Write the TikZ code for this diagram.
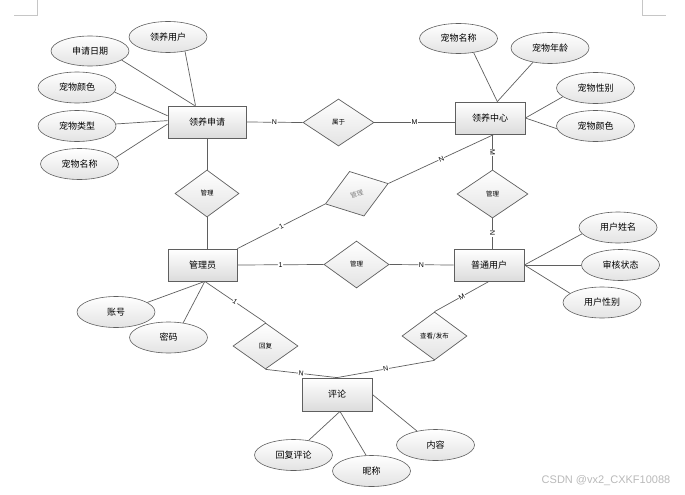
\documentclass[tikz,border=0pt]{standalone}
\usepackage{fontspec}
\setmainfont{Noto Sans CJK SC}
\newfontfamily\latinfont{Liberation Sans}
\usetikzlibrary{shapes.geometric,shadows,calc}
\definecolor{edgec}{HTML}{5F5F5F}
\definecolor{fillbot}{HTML}{DCDCDC}
\begin{document}
\begin{tikzpicture}[x=1pt,y=-1pt,
 ent/.style={rectangle,draw=edgec,line width=0.8pt,top color=white,bottom color=fillbot,minimum width=70pt,minimum height=32pt,inner sep=0pt,font=\fontsize{9}{10}\selectfont,drop shadow={shadow xshift=1.2pt,shadow yshift=-1.2pt,opacity=0.3}},
 attr/.style={ellipse,draw=edgec,line width=0.6pt,top color=white,bottom color=fillbot!80,minimum width=78pt,minimum height=31pt,inner sep=0pt,font=\fontsize{9}{10}\selectfont},
 rel/.style={diamond,draw=edgec,line width=0.7pt,top color=white,bottom color=fillbot!80,inner sep=0pt,font=\fontsize{6.5}{7}\selectfont},
 link/.style={draw=edgec,line width=0.7pt},
 card/.style={font=\latinfont\fontsize{7}{7}\selectfont,fill=white,inner sep=0.6pt,sloped,pos=0.5},
 pagemark/.style={draw=gray!45,line width=0.6pt}
]
\useasboundingbox (0,0) rectangle (685,495);
% page corner marks
\draw[pagemark] (14,15) -- (37,15) -- (37,0);
\draw[pagemark] (642,0) -- (642,15) -- (666,15);

% entities
\node[ent,minimum width=78pt] (req) at (207,122) {领养申请};
\node[ent] (ctr) at (490,118) {领养中心};
\node[ent,minimum width=69pt] (adm) at (202.5,265) {管理员};
\node[ent] (usr) at (489,265) {普通用户};
\node[ent,minimum height=33pt] (cmt) at (337,394.5) {评论};

% relationships
\node[rel,minimum width=71pt,minimum height=47pt] (belong) at (338.5,122.5) {属于};
\node[rel,minimum width=64pt,minimum height=47pt] (mg1) at (207,193.5) {管理};
\node[rel,minimum width=66pt,minimum height=47pt,rotate=18,text=gray] (mg2) at (356.75,193.75) {管理};
\node[rel,minimum width=71pt,minimum height=48pt] (mg3) at (492.5,194) {管理};
\node[rel,minimum width=65pt,minimum height=47pt] (mg4) at (356.5,264.5) {管理};
\node[rel,minimum width=65pt,minimum height=46pt] (reply) at (265.5,346) {回复};
\node[rel,minimum width=65pt,minimum height=48pt] (post) at (434.5,336) {查看/发布};

% attributes
\node[attr] (a1) at (168,37) {领养用户};
\node[attr,minimum height=30pt] (a2) at (90,51) {申请日期};
\node[attr] (a3) at (77,87.5) {宠物颜色};
\node[attr] (a4) at (77,126) {宠物类型};
\node[attr] (a5) at (79.5,164) {宠物名称};
\node[attr,minimum height=30pt] (b1) at (458.5,38.5) {宠物名称};
\node[attr] (b2) at (550,48) {宠物年龄};
\node[attr] (b3) at (595.5,88) {宠物性别};
\node[attr] (b4) at (595.5,126) {宠物颜色};
\node[attr] (c1) at (618,227.5) {用户姓名};
\node[attr] (c2) at (620.5,265) {审核状态};
\node[attr] (c3) at (602,302.5) {用户性别};
\node[attr] (d1) at (116,312) {账号};
\node[attr] (d2) at (168.5,337.5) {密码};
\node[attr] (e1) at (293.5,455) {回复评论};
\node[attr] (e2) at (371.5,471) {昵称};
\node[attr] (e3) at (435.5,445) {内容};

% attribute links
\draw[link] (a1.-40) -- (req.125);
\draw[link] (a2.-16) -- (req.127);
\draw[link] (a3.-7) -- (req.171);
\draw[link] (a4.3) -- (req.178);
\draw[link] (a5.10) -- (req.183);
\draw[link] (b1.-43) -- (ctr.66);
\draw[link] (b2.220) -- (ctr.66);
\draw[link] (b3.195) -- (ctr.east);
\draw[link] (b4.184) -- (ctr.east);
\draw[link] (c1.190) -- (usr.east);
\draw[link] (c2.west) -- (usr.east);
\draw[link] (c3.164) -- (usr.east);
\draw[link] (d1.17) -- (adm.-82);
\draw[link] (d2.45) -- (adm.-82);
\draw[link] (e1.44) -- (cmt.-80);
\draw[link] (e2.109) -- (cmt.-80);
\draw[link] (e3.143) -- (cmt.east);

% relationship links
\draw[link] (req.east) -- node[card]{N} (belong.west);
\draw[link] (belong.east) -- node[card]{M} (belong.east -| ctr.west);
\draw[link] (req.south) -- (mg1.north);
\draw[link] (mg1.south) -- (mg1.south |- adm.north);
\draw[link] (adm.north east) -- node[card]{1} (mg2.west);
\draw[link] (mg2.east) -- node[card]{N} (ctr.-76);
\draw[link] (mg3.north |- ctr.south) -- node[card]{M} (mg3.north);
\draw[link] (mg3.south) -- node[card]{N} (mg3.south |- usr.north);
\draw[link] (adm.east) -- node[card]{1} (mg4.west);
\draw[link] (mg4.east) -- node[card]{N} (usr.west);
\draw[link] (usr.south) -- node[card]{M} (post.north);
\draw[link] (post.south) -- node[card]{N} (cmt.north);
\draw[link] (adm.-82) -- node[card]{1} (reply.north);
\draw[link] (reply.south) -- node[card]{N} (cmt.north);

% watermark
\node[text=gray!55,font=\latinfont\fontsize{11}{12}\selectfont] (wm) at (606,481) {CSDN @vx2\_CXKF10088};
\end{tikzpicture}
\end{document}
